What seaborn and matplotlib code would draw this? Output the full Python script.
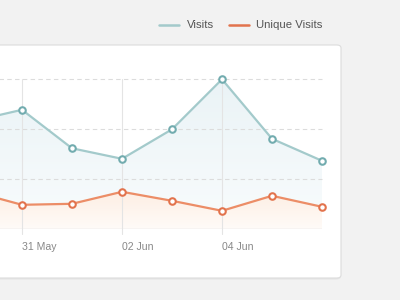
import numpy as np
import pandas as pd
import matplotlib
matplotlib.use("Agg")
import matplotlib.pyplot as plt
import seaborn as sns
from matplotlib.patches import FancyBboxPatch, Polygon

# ---- data ----
days = ["30 May", "31 May", "01 Jun", "02 Jun", "03 Jun", "04 Jun", "05 Jun", "06 Jun"]
visits = [216, 239, 162, 141, 200, 300, 181, 137]
unique_visits = [76, 49, 51, 75, 57, 37, 67, 45]
tick_days = ["31 May", "02 Jun", "04 Jun"]
series_names = ["Visits", "Unique Visits"]

sns.set_theme(style="white")
plt.rcParams["font.family"] = ["Liberation Sans", "DejaVu Sans"]

teal_line = "#a3cacb"
teal_edge = "#72acaf"
orange_line = "#ec8d67"
orange_edge = "#e2734d"

df = pd.DataFrame({"day": days, "pos": np.arange(len(days)),
                   "Visits": visits, "Unique Visits": unique_visits})
long = df.melt(id_vars=["day", "pos"], value_vars=series_names,
               var_name="series", value_name="value")

fig = plt.figure(figsize=(4, 3), dpi=100)
fig.patch.set_facecolor("#f2f2f2")

# card with shadow
sh = FancyBboxPatch((-0.03, 0.068), 0.03 + 341 / 400, (300 - 45) / 300 - 0.068,
                    boxstyle="round,pad=0,rounding_size=0.012",
                    transform=fig.transFigure, facecolor="#e6e6e6",
                    edgecolor="none", zorder=-3)
fig.patches.append(sh)
card = FancyBboxPatch((-0.03, (300 - 278) / 300), 0.03 + 341 / 400, (278 - 45) / 300,
                      boxstyle="round,pad=0,rounding_size=0.01",
                      transform=fig.transFigure, facecolor="white",
                      edgecolor="#dcdcdc", linewidth=0.8, zorder=-2)
fig.patches.append(card)

ax = fig.add_axes([-28 / 400, (300 - 229.3) / 300, 350 / 400, 150 / 300])
ax.set_facecolor("none")
ax.set_zorder(1)
ax.set_xlim(0, len(days) - 1)
ax.set_ylim(0, 300)


def gradient_fill(ax, x, y, color_top, color_bottom, z):
    verts = [(x[0], 0)] + list(zip(x, y)) + [(x[-1], 0)]
    poly = Polygon(verts, closed=True, facecolor="none", edgecolor="none")
    ax.add_patch(poly)
    c1 = np.array(matplotlib.colors.to_rgb(color_top))
    c2 = np.array(matplotlib.colors.to_rgb(color_bottom))
    t = np.linspace(0, 1, 256)[:, None]
    img = (c2 * (1 - t) + c1 * t)[:, None, :]
    im = ax.imshow(img, aspect="auto", origin="lower",
                   extent=[x[0], x[-1], 0, max(y)], zorder=z)
    im.set_clip_path(poly)


x = df["pos"].values
gradient_fill(ax, x, visits, "#eaf3f6", "#f9fcfd", 1)
gradient_fill(ax, x, unique_visits, "#fdeee3", "#fffbf8", 1.2)
ax.set_xlim(0, len(days) - 1)
ax.set_ylim(0, 300)

# grid
for yv in [100, 200, 300]:
    ax.axhline(yv, color="#dcdcdc", lw=0.8, ls=(0, (4, 3)), zorder=2, clip_on=False)
ax.axhline(0, color="#dedede", lw=1.0, zorder=2)
tick_pos = [days.index(d) for d in tick_days]
for p in tick_pos:
    ax.axvline(p, ymin=-0.03, ymax=1, color="#e4e4e4", lw=0.8, zorder=2, clip_on=False)

sns.lineplot(data=long, x="pos", y="value", hue="series", hue_order=series_names,
             palette=[teal_line, orange_line], linewidth=1.6, ax=ax, legend=False,
             zorder=3)
for line in ax.get_lines()[-2:]:
    line.set_clip_on(False)
sns.scatterplot(x=x, y=visits, ax=ax, s=22, facecolor="white", edgecolor=teal_edge,
                linewidth=1.5, zorder=4, clip_on=False)
sns.scatterplot(x=x, y=unique_visits, ax=ax, s=22, facecolor="white",
                edgecolor=orange_edge, linewidth=1.5, zorder=4, clip_on=False)

ax.set_xlim(0, len(days) - 1)
ax.set_ylim(0, 300)
ax.set_xticks(tick_pos)
ax.set_xticklabels(tick_days, ha="left", color="#888888", fontsize=7.6)
ax.tick_params(axis="x", length=0, pad=9)
ax.set_yticks([])
ax.set_xlabel("")
ax.set_ylabel("")
for s in ax.spines.values():
    s.set_visible(False)

# legend
fig.lines.append(plt.Line2D([159 / 400, 179 / 400], [1 - 24.5 / 300] * 2,
                            transform=fig.transFigure, color=teal_line, lw=1.8))
fig.lines.append(plt.Line2D([229 / 400, 249 / 400], [1 - 24.5 / 300] * 2,
                            transform=fig.transFigure, color=orange_edge, lw=1.8))
fig.text(187 / 400, 1 - 24.5 / 300, series_names[0], color="#555555", fontsize=8.2,
         va="center", ha="left")
fig.text(256 / 400, 1 - 24.5 / 300, series_names[1], color="#555555", fontsize=8.2,
         va="center", ha="left")

fig.savefig("out.png", dpi=100, facecolor=fig.get_facecolor())
